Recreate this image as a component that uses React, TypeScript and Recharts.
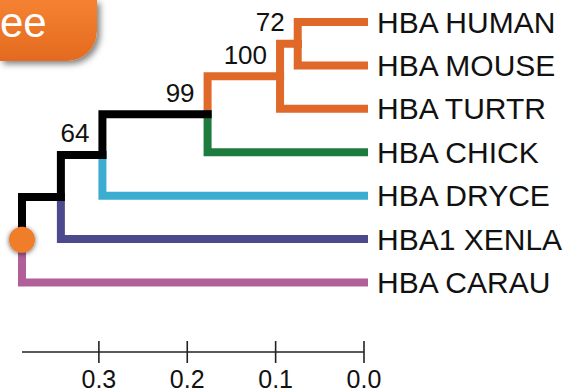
import { ComposedChart, Line, Scatter, XAxis, YAxis } from "recharts";

// leaves, top to bottom
const leafNames = [
  "HBA HUMAN",
  "HBA MOUSE",
  "HBA TURTR",
  "HBA CHICK",
  "HBA DRYCE",
  "HBA1 XENLA",
  "HBA CARAU",
];

// internal nodes, children before parents
const nodeNames = ["n72", "n100", "n99", "n64", "nA", "root"];
const nodeHeights = [0.075, 0.095, 0.177, 0.296, 0.343, 0.387];
const nodeChildren = [
  ["HBA HUMAN", "HBA MOUSE"],
  ["n72", "HBA TURTR"],
  ["n100", "HBA CHICK"],
  ["n99", "HBA DRYCE"],
  ["n64", "HBA1 XENLA"],
  ["nA", "HBA CARAU"],
];
const bootstrapValues = [72, 100, 99, 64, null, null];

const axisTicks = [0, 0.1, 0.2, 0.3];

const ORANGE = "#e0692a";
const GREEN = "#1e7b3e";
const CYAN = "#3badd0";
const PURPLE = "#4c4a8c";
const PINK = "#b05f98";
const BLACK = "#000000";

const branchColors: Record<string, string> = {
  "HBA HUMAN": ORANGE,
  "HBA MOUSE": ORANGE,
  n72: ORANGE,
  "HBA TURTR": ORANGE,
  n100: ORANGE,
  "HBA CHICK": GREEN,
  n99: BLACK,
  "HBA DRYCE": CYAN,
  n64: BLACK,
  "HBA1 XENLA": PURPLE,
  nA: BLACK,
  "HBA CARAU": PINK,
};

const depth: Record<string, number> = {};
const row: Record<string, number> = {};
leafNames.forEach((name, i) => {
  depth[name] = 0;
  row[name] = i;
});
nodeNames.forEach((name, i) => {
  const [a, b] = nodeChildren[i];
  depth[name] = nodeHeights[i];
  row[name] = (row[a] + row[b]) / 2;
});

// elbow per branch: parent vertical, then horizontal to child
const edges = nodeNames.flatMap((parent, i) =>
  nodeChildren[i].map((child) => ({
    id: child,
    color: branchColors[child],
    points: [
      { x: depth[parent], y: row[parent] },
      { x: depth[parent], y: row[child] },
      { x: depth[child], y: row[child] },
    ],
  }))
);

const supportPoints = nodeNames
  .map((name, i) => ({ x: depth[name], y: row[name], value: bootstrapValues[i] }))
  .filter((d) => d.value !== null);

const rootPoint = [{ x: depth.root, y: row.root }];

const FONT = "'Liberation Sans', Arial, sans-serif";

function AxisTick(props: any) {
  const { x, y, payload } = props;
  return (
    <g>
      <line x1={x} x2={x} y1={y - 11} y2={y + 11} stroke="#222" strokeWidth={1.6} />
      <text x={x} y={y + 36} textAnchor="middle" fontSize={25} fill="#111" fontFamily={FONT}>
        {payload.value.toFixed(1)}
      </text>
    </g>
  );
}

function LeafTick(props: any) {
  const { x, y, payload } = props;
  return (
    <text x={x + 13} y={y + 10.5} textAnchor="start" fontSize={30} fill="#111" fontFamily={FONT}>
      {leafNames[payload.value]}
    </text>
  );
}

function SupportLabel(props: any) {
  const { cx, cy, payload } = props;
  return (
    <text x={cx - 13} y={cy - 12.5} textAnchor="end" fontSize={26} fill="#111" fontFamily={FONT}>
      {payload.value}
    </text>
  );
}

function RootDot(props: any) {
  const { cx, cy } = props;
  return (
    <g>
      <defs>
        <filter id="rootShadow" x="-50%" y="-50%" width="200%" height="200%">
          <feDropShadow dx="0" dy="1" stdDeviation="2.5" floodColor="#000" floodOpacity="0.6" />
        </filter>
      </defs>
      <circle cx={cx} cy={cy} r={13} fill="#f07d2c" filter="url(#rootShadow)" />
    </g>
  );
}

export default function App() {
  return (
    <div style={{ position: "absolute", left: 0, top: 0, width: 567, height: 392, background: "#fff" }}>
      <ComposedChart width={567} height={392} margin={{ top: 22, right: 0, bottom: 0, left: 22 }}>
        <XAxis
          type="number"
          dataKey="x"
          domain={[0, depth.root]}
          reversed
          ticks={axisTicks}
          interval={0}
          height={40}
          tickSize={0}
          tickMargin={0}
          tickLine={false}
          axisLine={{ stroke: "#222", strokeWidth: 1.6 }}
          tick={AxisTick}
        />
        <YAxis
          type="number"
          dataKey="y"
          orientation="right"
          domain={[0, 7.6]}
          reversed
          ticks={leafNames.map((_, i) => i)}
          interval={0}
          width={203}
          tickSize={0}
          tickMargin={0}
          tickLine={false}
          axisLine={false}
          tick={LeafTick}
        />
        {edges.map((edge) => (
          <Line
            key={edge.id}
            data={edge.points}
            dataKey="y"
            type="linear"
            stroke={edge.color}
            strokeWidth={8}
            strokeLinecap="square"
            strokeLinejoin="miter"
            dot={false}
            activeDot={false}
            isAnimationActive={false}
          />
        ))}
        <Scatter data={supportPoints} dataKey="y" shape={SupportLabel} isAnimationActive={false} />
        <Scatter data={rootPoint} dataKey="y" shape={RootDot} isAnimationActive={false} />
      </ComposedChart>
      <div
        style={{
          position: "absolute",
          left: 0,
          top: 0,
          width: 97,
          height: 61,
          borderBottomRightRadius: 30,
          background: "linear-gradient(#f58232, #e36a1e)",
          boxShadow: "3px 3px 6px rgba(0,0,0,0.5)",
          overflow: "hidden",
        }}
      >
        <div
          style={{
            position: "absolute",
            left: 0,
            top: 2,
            width: 46,
            textAlign: "right",
            fontSize: 42,
            lineHeight: "42px",
            color: "#fff",
            fontFamily: FONT,
          }}
        >
          ee
        </div>
      </div>
    </div>
  );
}
